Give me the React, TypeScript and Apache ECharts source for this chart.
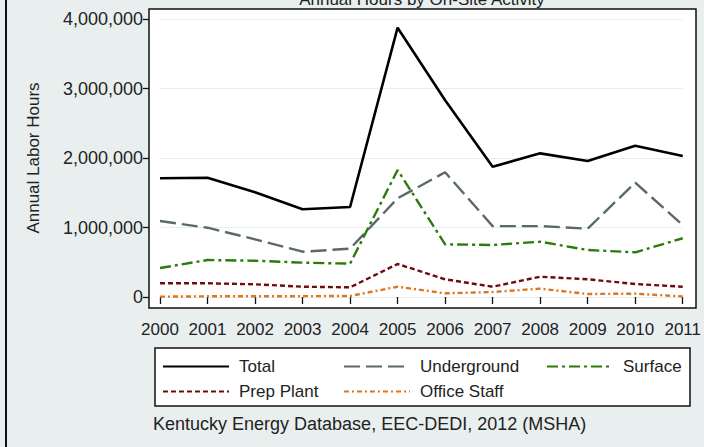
import React, { useEffect, useRef } from "react";
import * as echarts from "echarts";

const years = ["2000","2001","2002","2003","2004","2005","2006","2007","2008","2009","2010","2011"];
const total = [1708000, 1715000, 1506000, 1262000, 1295000, 3875000, 2830000, 1875000, 2067000, 1957000, 2177000, 2029000];
const underground = [1093000, 997000, 830000, 652000, 695000, 1420000, 1794000, 1020000, 1020000, 983000, 1645000, 1036000];
const surface = [417000, 532000, 522000, 494000, 480000, 1827000, 758000, 748000, 796000, 676000, 643000, 845000];
const prepPlant = [197000, 197000, 183000, 148000, 139000, 475000, 255000, 148000, 292000, 255000, 187000, 148000];
const officeStaff = [5000, 10000, 10000, 12000, 15000, 148000, 53000, 72000, 120000, 43000, 48000, 8000];
const yTicks = [0, 1000000, 2000000, 3000000, 4000000];

const FONT = "'Liberation Sans', Arial, Helvetica, sans-serif";
const TXT = "#222";

export default function App() {
  const ref = useRef<HTMLDivElement>(null);
  useEffect(() => {
    if (!ref.current) return;
    const chart = echarts.init(ref.current, undefined, { renderer: "svg" });
    const mk = (name: string, data: number[], color: string, type: any, width = 2.4) => ({
      name,
      type: "line",
      data,
      xAxisIndex: 0,
      yAxisIndex: 0,
      symbol: "none",
      showSymbol: false,
      lineStyle: { color, width, type, cap: "butt" },
      itemStyle: { color },
      z: 5,
    });
    const legendItem = (name: string, left: number, top: number) => ({
      data: [name],
      left,
      top,
      padding: 0,
      itemWidth: 66,
      itemHeight: 14,
      selectedMode: false,
      itemStyle: { color: "rgba(0,0,0,0)", borderColor: "rgba(0,0,0,0)", borderWidth: 0, opacity: 0 },
      textStyle: { fontSize: 17, fontFamily: FONT, color: TXT, padding: [0, 0, 0, 5] },
    });
    chart.setOption({
      animation: false,
      backgroundColor: "#e9efef",
      textStyle: { fontFamily: FONT },
      grid: [
        { left: 160, right: 18, top: 19, bottom: 150, show: false },
        { left: 149, width: 547, top: 9, height: 299, show: true, backgroundColor: "#ffffff", borderColor: "#111", borderWidth: 1.5, z: -1 },
      ],
      xAxis: [
        {
          type: "category",
          gridIndex: 0,
          data: years,
          boundaryGap: false,
          offset: 11,
          axisLine: { show: false },
          axisTick: { show: true, length: 7, alignWithLabel: true, lineStyle: { color: "#111", width: 1.3 } },
          axisLabel: { fontSize: 17, color: TXT, margin: 13, fontFamily: FONT, interval: 0 },
          splitLine: { show: false },
        },
        { type: "value", gridIndex: 1, show: false },
      ],
      yAxis: [
        {
          type: "value",
          gridIndex: 0,
          min: 0,
          max: 4000000,
          interval: 1000000,
          offset: 11,
          name: "Annual Labor Hours",
          nameLocation: "middle",
          nameGap: 107,
          nameTextStyle: { fontSize: 17, color: TXT, fontFamily: FONT },
          axisLine: { show: false },
          axisTick: { show: true, length: 6, lineStyle: { color: "#111", width: 1.3 } },
          axisLabel: {
            fontSize: 18,
            color: TXT,
            margin: 6,
            fontFamily: FONT,
            formatter: (v: number) => (yTicks.includes(v) ? v.toLocaleString("en-US") : ""),
          },
          splitLine: { show: true, lineStyle: { color: "#e4eeee", width: 1 } },
        },
        { type: "value", gridIndex: 1, show: false },
      ],
      legend: [
        legendItem("Total", 162, 358),
        legendItem("Underground", 343, 358),
        legendItem("Surface", 546, 358),
        legendItem("Prep Plant", 162, 383),
        legendItem("Office Staff", 343, 383),
      ],
      graphic: [
        { type: "rect", shape: { x: 5, y: 0, width: 2, height: 447 }, style: { fill: "#111" }, z: 10 },
        {
          type: "text",
          x: 422,
          y: 8,
          style: { text: "Annual Hours by On-Site Activity", fontSize: 17, fontFamily: FONT, fill: TXT, textAlign: "center", textVerticalAlign: "bottom" },
          z: 10,
        },
        { type: "rect", shape: { x: 155, y: 348, width: 535, height: 58 }, style: { fill: "#ffffff", stroke: "#111", lineWidth: 1.5 }, z: 0 },
        {
          type: "text",
          x: 153,
          y: 424,
          style: { text: "Kentucky Energy Database, EEC-DEDI, 2012 (MSHA)", fontSize: 18, fontFamily: FONT, fill: TXT, textAlign: "left", textVerticalAlign: "middle" },
          z: 10,
        },
      ],
      series: [
        mk("Total", total, "#000000", "solid", 2.6),
        mk("Underground", underground, "#5b686c", [16, 6]),
        mk("Surface", surface, "#2b7a0b", [11, 4, 3, 4]),
        mk("Prep Plant", prepPlant, "#720a12", [5, 3]),
        mk("Office Staff", officeStaff, "#e0751c", [5, 3, 2, 3]),
      ],
    });
    return () => chart.dispose();
  }, []);
  return <div ref={ref} style={{ position: "fixed", left: 0, top: 0, width: 704, height: 447 }} />;
}
